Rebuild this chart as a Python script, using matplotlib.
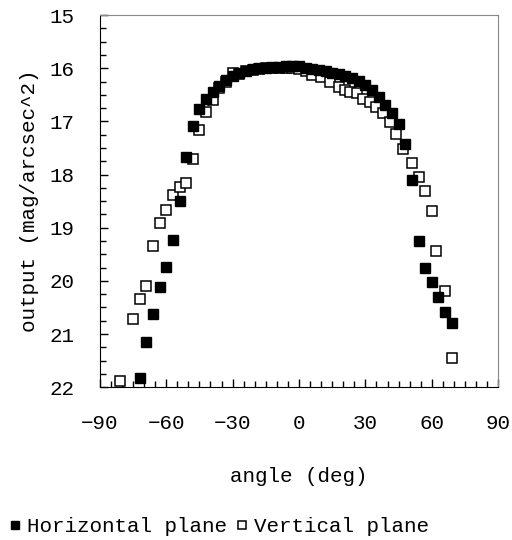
import matplotlib.pyplot as plt
from matplotlib.ticker import MultipleLocator

plt.rcParams["font.family"] = ["Liberation Mono", "DejaVu Sans Mono"]

# Horizontal plane (filled squares)
h_angle = [-72, -69, -66, -63, -60, -57, -54, -51, -48, -45, -42, -39, -36,
           -33, -30, -27, -24, -21, -18, -15, -12, -9, -6, -3, 0, 3, 6, 9,
           12, 15, 18, 21, 24, 27, 30, 33, 36, 39, 42, 45, 48, 51, 54, 57,
           60, 63, 66, 69]
h_output = [21.83, 21.15, 20.63, 20.11, 19.73, 19.23, 18.49, 17.67, 17.08,
            16.77, 16.57, 16.44, 16.33, 16.22, 16.14, 16.09, 16.05, 16.02,
            16.00, 15.99, 15.98, 15.97, 15.96, 15.96, 15.96, 15.99, 16.01,
            16.03, 16.05, 16.08, 16.10, 16.14, 16.19, 16.24, 16.32, 16.41,
            16.54, 16.69, 16.85, 17.05, 17.42, 18.10, 19.25, 19.76, 20.03,
            20.30, 20.58, 20.80]

# Vertical plane (open squares)
v_angle = [-81, -75, -72, -69, -66, -63, -60, -57, -54, -51, -48, -45, -42,
           -39, -36, -33, -30, -27, -24, -21, -18, -15, -12, -9, -6, -3, 0,
           3, 6, 10, 14, 18, 21, 23, 26, 29, 32, 35, 38, 41, 44, 47, 51, 54,
           57, 60, 62, 66, 69]
v_output = [21.89, 20.72, 20.35, 20.09, 19.34, 18.92, 18.66, 18.39, 18.24,
            18.16, 17.70, 17.17, 16.82, 16.60, 16.38, 16.25, 16.08, 16.10,
            16.06, 16.03, 16.01, 16.00, 15.99, 15.99, 15.99, 16.00, 16.02,
            16.06, 16.13, 16.16, 16.25, 16.35, 16.40, 16.44, 16.47, 16.57,
            16.63, 16.73, 16.85, 17.01, 17.23, 17.51, 17.79, 18.05, 18.31,
            18.68, 19.44, 20.19, 21.46]

x_ticks = [-90, -60, -30, 0, 30, 60, 90]
x_ticklabels = ["\u221290", "\u221260", "\u221230", "0", "30", "60", "90"]

fig = plt.figure(figsize=(5.12, 5.40), dpi=100)
ax = fig.add_axes([0.195, 0.283, 0.778, 0.689])

ax.plot(v_angle, v_output, "s", ms=7, mfc="white", mec="black", mew=1.1,
        linestyle="none", label="Vertical plane")
ax.plot(h_angle, h_output, "s", ms=7, mfc="black", mec="black",
        linestyle="none", label="Horizontal plane")

ax.set_xlim(-90, 90)
ax.set_ylim(22, 15)
ax.set_xticks(x_ticks, x_ticklabels)
ax.xaxis.set_minor_locator(MultipleLocator(5))
ax.yaxis.set_major_locator(MultipleLocator(1))
ax.yaxis.set_minor_locator(MultipleLocator(0.25))
ax.tick_params(which="both", direction="in", top=False, right=False,
               labelsize=15, width=1)
ax.tick_params(which="major", length=6)
ax.tick_params(which="minor", length=4)
ax.tick_params(axis="x", pad=19)
ax.tick_params(axis="y", pad=18)

for side in ["top", "right"]:
    ax.spines[side].set_color("#888888")

ax.set_xlabel("angle (deg)", fontsize=15, labelpad=25)
ax.set_ylabel("output (mag/arcsec^2)", fontsize=15, labelpad=8)

handles, labels = ax.get_legend_handles_labels()
leg = fig.legend(handles[::-1], labels[::-1], loc="lower left",
                 bbox_to_anchor=(-0.02, -0.027), ncol=2, frameon=False,
                 fontsize=15, handlelength=0.6, handletextpad=0.3,
                 columnspacing=0.4, markerscale=0.8)

plt.savefig("out.png", dpi=100)
